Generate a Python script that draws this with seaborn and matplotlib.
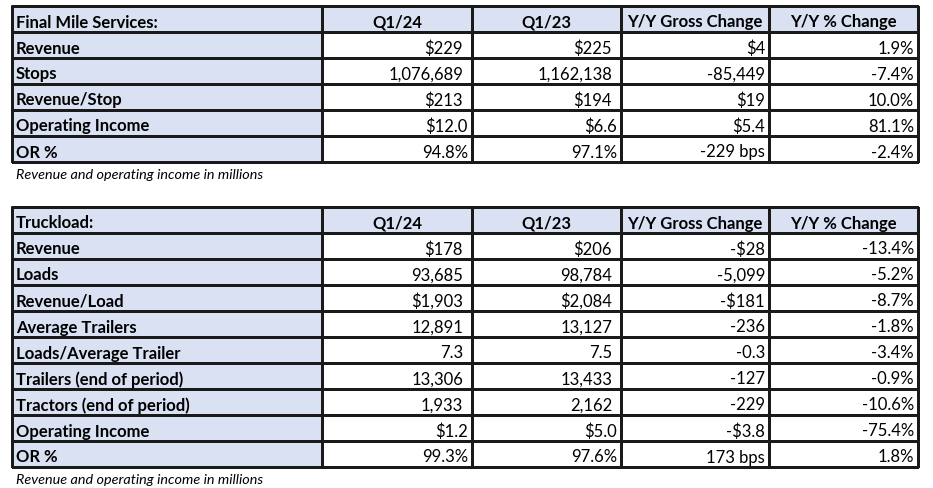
import matplotlib
matplotlib.use("Agg")
import matplotlib.pyplot as plt
import numpy as np
import seaborn as sns

sns.set_theme(style="white")
plt.rcParams['font.family'] = ['Lato', 'DejaVu Sans']

# ---- data ----
fm_header = ["Final Mile Services:", "Q1/24", "Q1/23", "Y/Y Gross Change", "Y/Y % Change"]
fm_labels = ["Revenue", "Stops", "Revenue/Stop", "Operating Income", "OR %"]
fm_q124 = ["$229", "1,076,689", "$213", "$12.0", "94.8%"]
fm_q123 = ["$225", "1,162,138", "$194", "$6.6", "97.1%"]
fm_gross = ["$4", "-85,449", "$19", "$5.4", "-229 bps"]
fm_pct = ["1.9%", "-7.4%", "10.0%", "81.1%", "-2.4%"]

tl_header = ["Truckload:", "Q1/24", "Q1/23", "Y/Y Gross Change", "Y/Y % Change"]
tl_labels = ["Revenue", "Loads", "Revenue/Load", "Average Trailers", "Loads/Average Trailer",
             "Trailers (end of period)", "Tractors (end of period)", "Operating Income", "OR %"]
tl_q124 = ["$178", "93,685", "$1,903", "12,891", "7.3", "13,306", "1,933", "$1.2", "99.3%"]
tl_q123 = ["$206", "98,784", "$2,084", "13,127", "7.5", "13,433", "2,162", "$5.0", "97.6%"]
tl_gross = ["-$28", "-5,099", "-$181", "-236", "-0.3", "-127", "-229", "-$3.8", "173 bps"]
tl_pct = ["-13.4%", "-5.2%", "-8.7%", "-1.8%", "-3.4%", "-0.9%", "-10.6%", "-75.4%", "1.8%"]

caption = "Revenue and operating income in millions"

# ---- layout ----
W, H = 933, 489
col_edges = np.array([12, 322, 472, 621, 769, 918])
row_h = 26
BLUE = "#D9E1F2"
LINE = "#1a1a1a"
FS = 12.0
CAP_FS = 10.4

fig = plt.figure(figsize=(W / 100, H / 100), dpi=100)
ax = fig.add_axes([0, 0, 1, 1])
ax.set_xlim(0, W)
ax.set_ylim(H, 0)
ax.axis("off")


def draw_table(top, header, labels, cols):
    nrows = len(labels) + 1
    y_edges = top + row_h * np.arange(nrows + 1)
    cmat = np.zeros((nrows, len(col_edges) - 1))
    cmat[0, :] = 1
    cmat[:, 0] = 1
    cmap = matplotlib.colors.ListedColormap(["white", BLUE])
    ax.pcolormesh(col_edges, y_edges, cmat, cmap=cmap, vmin=0, vmax=1,
                  edgecolors=LINE, linewidth=0.9, shading="flat")
    ax.add_patch(plt.Rectangle((col_edges[0], y_edges[0]), col_edges[-1] - col_edges[0],
                               y_edges[-1] - y_edges[0], fill=False, ec=LINE, lw=1.2))
    yc = (y_edges[0] + y_edges[1]) / 2 + 1
    ax.text(col_edges[0] + 4, yc, header[0], ha="left", va="center_baseline",
            fontsize=FS, fontweight="bold", color="black")
    for j in range(1, 5):
        xc = (col_edges[j] + col_edges[j + 1]) / 2
        ax.text(xc, yc, header[j], ha="center", va="center_baseline",
                fontsize=FS, fontweight="bold", color="black")
    for i, lab in enumerate(labels):
        yc = (y_edges[i + 1] + y_edges[i + 2]) / 2 + 1
        ax.text(col_edges[0] + 4, yc, lab, ha="left", va="center_baseline",
                fontsize=FS, fontweight="bold", color="black")
        for j, col in enumerate(cols):
            v = col[i]
            if j < 2 and not (v.endswith("%") or (v.startswith("$") and "." in v)):
                pad = 9
            else:
                pad = 4
            ax.text(col_edges[j + 2] - pad, yc, v, ha="right", va="center_baseline",
                    fontsize=FS, color="black")
    return y_edges[-1]


b1 = draw_table(7, fm_header, fm_labels, [fm_q124, fm_q123, fm_gross, fm_pct])
ax.text(16, b1 + 11, caption, ha="left", va="center_baseline", fontsize=CAP_FS,
        fontstyle="italic", color="black")
b2 = draw_table(208, tl_header, tl_labels, [tl_q124, tl_q123, tl_gross, tl_pct])
ax.text(16, b2 + 11, caption, ha="left", va="center_baseline", fontsize=CAP_FS,
        fontstyle="italic", color="black")

fig.savefig("out.png", dpi=100, facecolor="white")
